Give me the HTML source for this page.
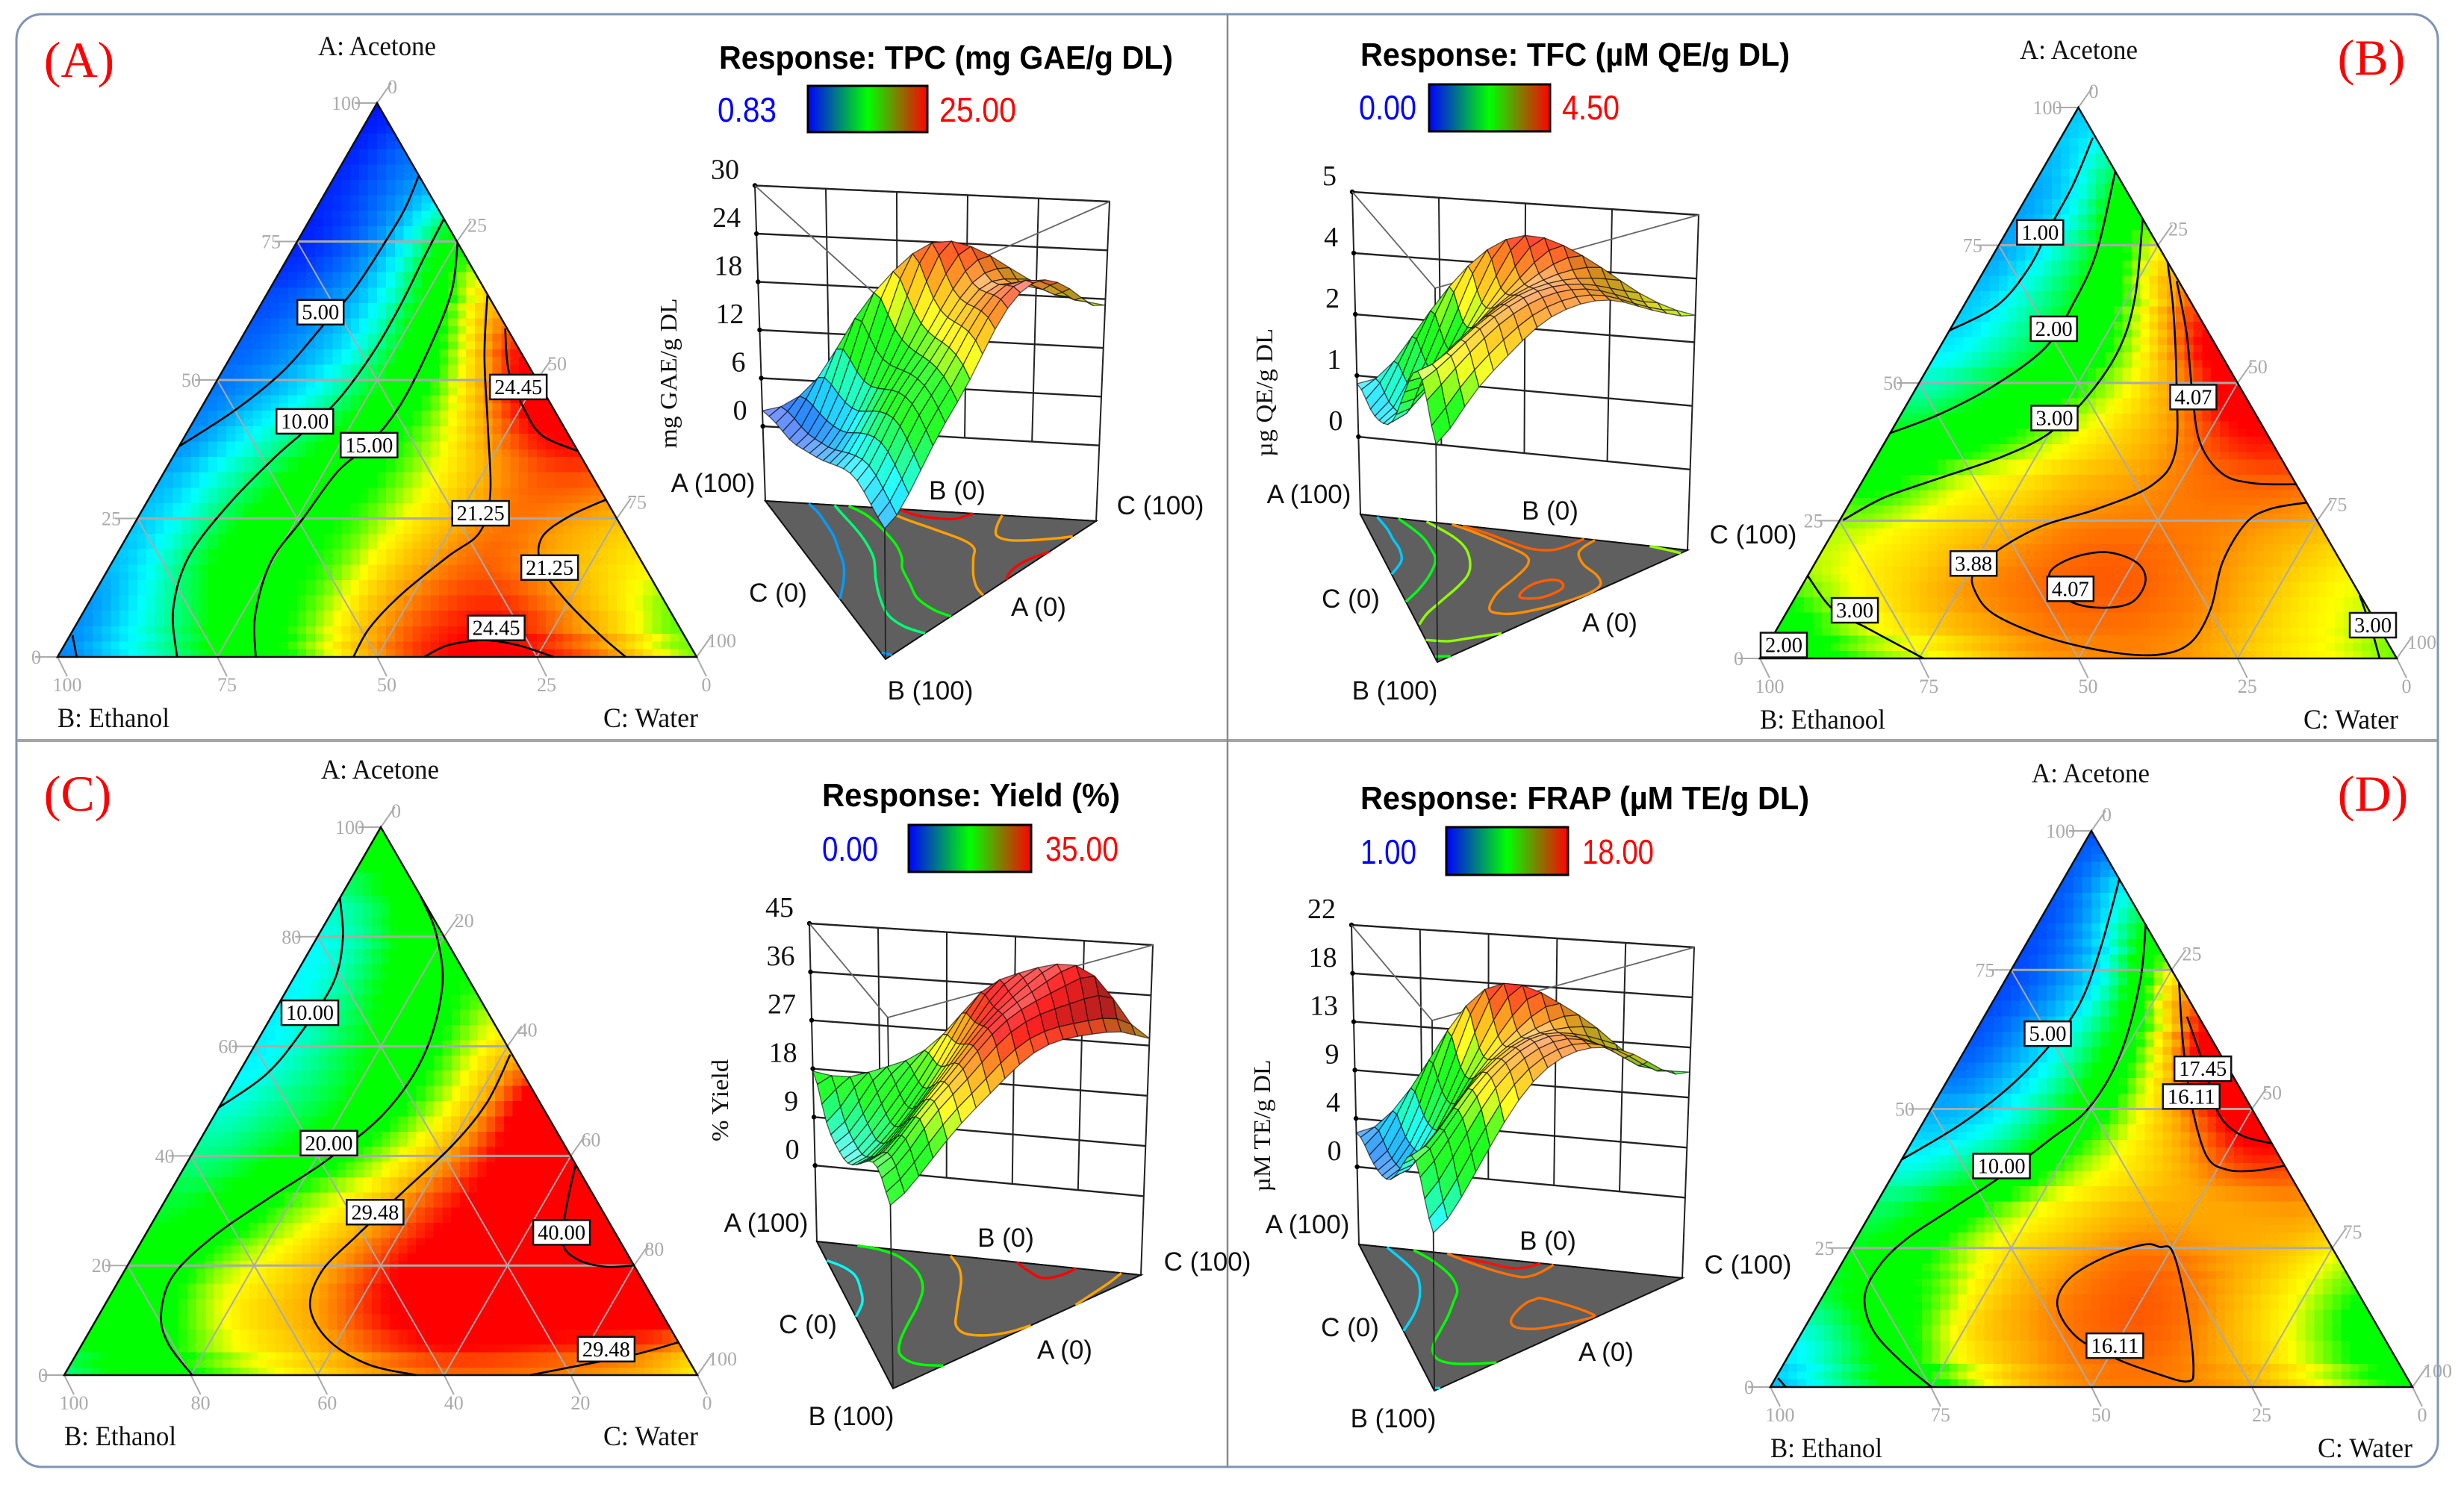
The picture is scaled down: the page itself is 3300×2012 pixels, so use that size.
<!DOCTYPE html>
<html lang="en">
<head>
<meta charset="utf-8">
<title>Ternary response surface plots</title>
<style>
html,body{margin:0;padding:0;background:#fff;}
svg{display:block;}
.corner{font-family:"Liberation Serif",serif;font-size:37px;fill:#111;}
.letter{font-family:"Liberation Serif",serif;font-size:68px;fill:#f00;text-anchor:middle;}
.title{font-family:"Liberation Sans",sans-serif;font-size:44px;font-weight:bold;fill:#000;}
.minv{font-family:"Liberation Sans",sans-serif;font-size:46px;fill:#00f;}
.maxv{font-family:"Liberation Sans",sans-serif;font-size:46px;fill:#f00;}
.ztitle{font-family:"Liberation Serif",serif;font-size:32px;fill:#111;text-anchor:middle;}
.vertex{font-family:"Liberation Sans",sans-serif;font-size:35px;fill:#111;text-anchor:middle;}
</style>
</head>
<body>
<svg id="figure" xmlns="http://www.w3.org/2000/svg" width="3300" height="2012" viewBox="0 0 3300 2012">
<defs>
<linearGradient id="barGrad" x1="0" x2="1" y1="0" y2="0">
<stop offset="0" stop-color="#0000ff"/><stop offset="0.5" stop-color="#00ff00"/><stop offset="1" stop-color="#ff0000"/>
</linearGradient>
</defs>
<rect x="0" y="0" width="3300" height="2012" fill="#fff"/>
<rect x="22" y="19" width="3243" height="1946" rx="34" ry="34" fill="none" stroke="#7f93b3" stroke-width="3"/>
<line x1="23" y1="992" x2="3264" y2="992" stroke="#a4a4a4" stroke-width="4"/>
<line x1="1644" y1="20" x2="1644" y2="1964" stroke="#8a8a8a" stroke-width="2.5"/>

<g id="panelA"></g>
<g id="panelB"></g>
<g id="panelC"></g>
<g id="panelD"></g>

<g>
<text class="letter" x="106" y="103">(A)</text>
<text class="corner" x="505" y="74" text-anchor="middle" textLength="158" lengthAdjust="spacingAndGlyphs">A: Acetone</text>
<text class="corner" x="77" y="974" textLength="150" lengthAdjust="spacingAndGlyphs">B: Ethanol</text>
<text class="corner" x="808" y="974" textLength="127" lengthAdjust="spacingAndGlyphs">C: Water</text>
<text class="title" x="963" y="92" textLength="608" lengthAdjust="spacingAndGlyphs">Response: TPC (mg GAE/g DL)</text>
<text class="minv" x="961" y="163" textLength="79" lengthAdjust="spacingAndGlyphs">0.83</text>
<rect x="1082" y="115" width="160" height="62" fill="url(#barGrad)" stroke="#000" stroke-width="3"/>
<text class="maxv" x="1258" y="163" textLength="103" lengthAdjust="spacingAndGlyphs">25.00</text>
<text class="ztitle" transform="translate(906,500) rotate(-90)" textLength="201" lengthAdjust="spacingAndGlyphs">mg GAE/g DL</text>
<text class="vertex" x="955" y="659">A (100)</text>
<text class="vertex" x="1282" y="669">B (0)</text>
<text class="vertex" x="1554" y="689">C (100)</text>
<text class="vertex" x="1042" y="806">C (0)</text>
<text class="vertex" x="1391" y="825">A (0)</text>
<text class="vertex" x="1246" y="937">B (100)</text>
</g>

<g>
<text class="letter" x="3176" y="100">(B)</text>
<text class="corner" x="2784" y="79" text-anchor="middle" textLength="158" lengthAdjust="spacingAndGlyphs">A: Acetone</text>
<text class="corner" x="2357" y="976" textLength="168" lengthAdjust="spacingAndGlyphs">B: Ethanool</text>
<text class="corner" x="3085" y="976" textLength="127" lengthAdjust="spacingAndGlyphs">C: Water</text>
<text class="title" x="1822" y="88" textLength="575" lengthAdjust="spacingAndGlyphs">Response: TFC (µM QE/g DL)</text>
<text class="minv" x="1820" y="160" textLength="77" lengthAdjust="spacingAndGlyphs">0.00</text>
<rect x="1914" y="113" width="162" height="63" fill="url(#barGrad)" stroke="#000" stroke-width="3"/>
<text class="maxv" x="2092" y="160" textLength="77" lengthAdjust="spacingAndGlyphs">4.50</text>
<text class="ztitle" transform="translate(1704,526) rotate(-90)" textLength="172" lengthAdjust="spacingAndGlyphs">µg QE/g DL</text>
<text class="vertex" x="1753" y="674">A (100)</text>
<text class="vertex" x="2076" y="696">B (0)</text>
<text class="vertex" x="2348" y="728">C (100)</text>
<text class="vertex" x="1809" y="814">C (0)</text>
<text class="vertex" x="2156" y="846">A (0)</text>
<text class="vertex" x="1868" y="937">B (100)</text>
</g>

<g>
<text class="letter" x="104" y="1086">(C)</text>
<text class="corner" x="509" y="1043" text-anchor="middle" textLength="158" lengthAdjust="spacingAndGlyphs">A: Acetone</text>
<text class="corner" x="86" y="1936" textLength="150" lengthAdjust="spacingAndGlyphs">B: Ethanol</text>
<text class="corner" x="808" y="1936" textLength="127" lengthAdjust="spacingAndGlyphs">C: Water</text>
<text class="title" x="1101" y="1080" textLength="399" lengthAdjust="spacingAndGlyphs">Response: Yield (%)</text>
<text class="minv" x="1101" y="1153" textLength="75" lengthAdjust="spacingAndGlyphs">0.00</text>
<rect x="1217" y="1105" width="164" height="63" fill="url(#barGrad)" stroke="#000" stroke-width="3"/>
<text class="maxv" x="1400" y="1153" textLength="98" lengthAdjust="spacingAndGlyphs">35.00</text>
<text class="ztitle" transform="translate(975,1474) rotate(-90)" textLength="110" lengthAdjust="spacingAndGlyphs">% Yield</text>
<text class="vertex" x="1026" y="1650">A (100)</text>
<text class="vertex" x="1347" y="1670">B (0)</text>
<text class="vertex" x="1617" y="1702">C (100)</text>
<text class="vertex" x="1082" y="1786">C (0)</text>
<text class="vertex" x="1426" y="1820">A (0)</text>
<text class="vertex" x="1140" y="1909">B (100)</text>
</g>

<g>
<text class="letter" x="3178" y="1086">(D)</text>
<text class="corner" x="2800" y="1048" text-anchor="middle" textLength="158" lengthAdjust="spacingAndGlyphs">A: Acetone</text>
<text class="corner" x="2371" y="1952" textLength="150" lengthAdjust="spacingAndGlyphs">B: Ethanol</text>
<text class="corner" x="3104" y="1952" textLength="127" lengthAdjust="spacingAndGlyphs">C: Water</text>
<text class="title" x="1822" y="1084" textLength="601" lengthAdjust="spacingAndGlyphs">Response: FRAP (µM TE/g DL)</text>
<text class="minv" x="1822" y="1157" textLength="75" lengthAdjust="spacingAndGlyphs">1.00</text>
<rect x="1937" y="1108" width="163" height="64" fill="url(#barGrad)" stroke="#000" stroke-width="3"/>
<text class="maxv" x="2119" y="1157" textLength="96" lengthAdjust="spacingAndGlyphs">18.00</text>
<text class="ztitle" transform="translate(1701,1508) rotate(-90)" textLength="177" lengthAdjust="spacingAndGlyphs">µM TE/g DL</text>
<text class="vertex" x="1751" y="1652">A (100)</text>
<text class="vertex" x="2073" y="1674">B (0)</text>
<text class="vertex" x="2341" y="1706">C (100)</text>
<text class="vertex" x="1808" y="1790">C (0)</text>
<text class="vertex" x="2151" y="1823">A (0)</text>
<text class="vertex" x="1866" y="1912">B (100)</text>
</g>
</svg>

<script>
/* ---------- DATA: response values on a 13-row ternary lattice (row 0 = A 100 %, row 12 = A 0 %; column = C in 8.33 % steps) ---------- */
const tpcGrid = [
[0.5],
[1.0,4.0],
[1.5,3.5,6.5],
[1.2,3.0,7.0,15.0],
[2.0,4.0,6.5,13.0,20.5],
[3.0,4.5,6.5,11.5,16.5,24.5],
[3.5,4.8,7.5,11.5,15.0,21.0,27],
[3.5,7.0,9.5,12.5,15.3,18.5,23.0,25.5],
[4.5,8.0,10.5,14.0,15.0,18.0,20.5,23.0,23.5],
[5.5,8.5,12.0,14.8,15.6,18.2,20.5,22.5,21.4,20.3],
[5.2,8.5,12.5,14.8,15.4,19.0,21.5,23.0,21.25,20.0,18.5],
[3.8,7.5,10.5,14.0,15.5,19.0,22.0,23.5,24.0,21.5,19.0,15.5],
[4.0,7.0,9.3,12.5,14.5,18.0,22.0,24.5,25.4,24.9,23.2,20.0,16.4]
];
const tfcGrid = [
[0.85],
[0.8,1.6],
[0.7,1.2,2.7],
[0.65,1.3,2.1,3.45],
[0.8,1.4,2.0,2.95,4.2],
[1.0,1.45,1.9,2.55,3.45,4.75],
[1.3,1.75,2.15,2.7,3.25,3.92,4.8],
[1.95,2.25,2.55,3.0,3.4,3.7,4.15,4.5],
[2.4,2.7,3.2,3.35,3.6,3.75,3.98,4.08,4.15],
[2.95,3.2,3.45,3.55,3.85,3.97,3.95,3.95,3.85,3.75],
[3.05,3.35,3.5,3.85,3.98,4.07,4.1,3.98,3.8,3.55,3.3],
[2.55,3.05,3.45,3.75,3.9,4.03,4.06,4.0,3.88,3.55,3.3,3.05],
[1.75,2.4,2.8,3.0,3.4,3.75,3.82,3.88,3.8,3.6,3.35,3.2,2.8]
];
const yieldGrid = [
[20],
[14,19],
[10,13.5,21],
[9,12,18,21],
[8.7,12,16.5,19.5,24],
[8.5,11.5,15,18.5,23.5,29.5],
[9.5,12.5,14.5,18.5,23,29.3,38],
[12,14,17,20.8,25,30,36,38.5],
[14,15.5,20.4,23.5,27,32,35,38,41],
[15,19,22.5,26,29.4,33,36,37.5,39.5,42],
[17,20,25,27,29.8,34,36.5,38,39,40,42],
[16.5,18.5,23,27,28.7,32,35,36,36,35,35,34],
[12,17,19.5,21.5,24.5,26.5,28.5,30,29.9,29.5,28.5,27,23]
];
const frapGrid = [
[1.8],
[2,5.5],
[2,4.2,9.5],
[2,3.5,6.5,15],
[2,3.9,6.5,11,18.5],
[2.4,4.2,6.5,10.3,14.5,20.3],
[4,4.8,7,10,13.5,16.3,19],
[5.2,6.5,8,11.5,13.3,14.5,16.7,17.5],
[7,8.5,11,13,14,14.8,15,15.3,15.8],
[8,10.3,12.5,14,14.8,16,16,15.3,14.8,13.5],
[7.5,10.5,11.2,13.9,15.5,16.2,16.5,16,14.5,13,11],
[5.5,7.5,10.8,14,15,16,16.4,16.2,15,13.5,11.5,9.5],
[4,6.5,8.5,10,13,15,15.7,15.9,15.8,15.4,14,12.5,11.3]
];

/* contour levels and their traces in composition units [A %, C %] */
const tpcContourLevels = [5,5,10,15,21.25,21.25,24.45,24.45];
const tpcContourTraces = [
[[38,0],[44.7,5.6],[51.6,9.5],[59.3,11.5],[66.2,13.2],[74.8,13.8],[80.8,13.9],[86.8,13.1]],
[[3.9,0.4],[0,3]],
[[0,18.7],[8.6,13.8],[18,11.5],[27.5,13],[36.1,16],[40.8,18.3],[46.4,20.7],[55,21.9],[63.6,21.9],[72.2,21.3],[79.1,20.9]],
[[0,31],[7.7,27.1],[17.2,24.8],[24.9,25.9],[33.5,27.1],[38.3,29.6],[45.6,30.9],[56.8,30.2],[66.2,28.6],[74.8,25.2]],
[[65.3,34.6],[54.2,39.7],[41.3,46.7],[29.2,53.1],[22.4,54.8],[18.1,52],[11.2,48.1],[5.2,46.2],[0,46.3]],
[[28.4,71.6],[25.4,67.4],[21.5,65],[16.3,67.6],[10.3,74.3],[3.9,83],[0,88.9]],
[[59.3,40.4],[51.6,44.8],[44.7,50.7],[40,55.8],[37.2,62.7]],
[[0,57.4],[2.1,60],[3,65.1],[2.1,71],[0,77.6]]
];
const tpcLabels = [["5.00",62.3,10],["10.00",42.6,17.4],["15.00",38.3,29.6],["21.25",26,53.2],["21.25",16.2,68.9],["24.45",48.8,47.7],["24.45",5.3,66]];

const tfcContourLevels = [1,2,2,3,3,3,3.88,4.07,4.07];
const tfcContourTraces = [
[[59.5,0],[64.2,5.3],[71.1,6.8],[78,6.4],[85.8,6.2],[94.5,5]],
[[40.9,0],[44.3,6],[49.5,12],[56.4,16.6],[64.2,17],[73.7,16],[88.4,11.6]],
[[3.7,0.3],[0,5.3]],
[[25.1,0.5],[29.2,4.9],[32.7,11.8],[36.6,19.7],[40.9,25],[47.8,27.7],[56.4,28.3],[65.9,26],[79.8,20.2]],
[[15,0],[8.9,7],[5.4,14.3],[0,25.7]],
[[11.5,88.4],[5.4,93.3],[0,97.3]],
[[72,28],[63.4,33.2],[50.4,40.2],[37.4,46.5],[31.4,45.8],[27.1,39.3],[24,32.2],[19.7,27.6],[15.8,25.8],[12.4,27.5],[8,32.8],[3.7,43.6],[1.1,54.8],[0.7,62.4],[2.9,66.2],[8.9,66.3],[17.5,63.9],[24.5,64],[27.1,66.5],[28.3,71.7]],
[[68.5,31.2],[59,37.5],[48.7,43.5],[39.2,49.5],[33.5,55.9],[31.8,61.6],[31.6,68.4]],
[[15,37.9],[18,39.5],[19.3,44.5],[17.5,50.3],[14.1,53.5],[10.2,53.3],[9.2,48.9],[10.5,43.3],[15,37.9]]
];
const tfcLabels = [["1.00",77.4,5.3],["2.00",59.9,16.2],["3.00",43.7,24.4],["4.07",47.5,44.3],["3.88",17.3,24.9],["4.07",12.7,42.4],["3.00",8.8,10.5],["2.00",2.5,2.5],["3.00",6.1,93.2]];

const yieldContourLevels = [10,20,29.48,29.48,40];
const yieldContourTraces = [
[[48.8,0],[55,4.5],[62.9,6.2],[71.7,6.7],[79.6,4.2],[87.1,0]],
[[0,20.2],[5.7,13.6],[11,9.8],[18,8.1],[25.1,10.8],[32.1,16],[39.1,21.8],[47.9,26.7],[58.5,27.6],[70.8,24.3],[80.5,18.5],[87.5,12.5]],
[[0,55.6],[1.9,47.2],[6.2,38.8],[12.3,32.7],[18.9,31.2],[25.5,33.5],[33,36.6],[41.8,40.3],[49.7,41.9],[58.5,41.2]],
[[0,73.6],[1.8,80.7],[3.8,88.4],[6,94]],
[[38.3,61.6],[31.2,63.8],[24.2,66.6],[21.1,70.5],[19.8,75.5],[20,80]]
];
const yieldLabels = [["10.00",66.2,5.7],["20.00",42.4,20.6],["29.48",29.8,34.2],["40.00",26.1,65.5],["29.48",4.8,83.2]];

const frapContourLevels = [5,5,10,16.11,17.45,16.11];
const frapContourTraces = [
[[40.9,0],[47.1,5.9],[54.1,10.3],[62.3,13],[69.2,13.7],[78.8,12],[91.3,8.7]],
[[1.6,0.4],[0,2.4]],
[[0,25.1],[4.7,17.9],[10.3,10.8],[16.4,6.5],[22,6.1],[26.8,8],[32,12.2],[38,17.1],[44.5,21.3],[50.2,24.5],[59.7,24.6],[72.7,21.2],[83.1,16.9]],
[[72.7,27.3],[61.4,33.6],[50.2,40.6],[41.5,47.2],[39.1,51.5],[38.9,55.9],[39.8,60.2]],
[[66.6,31.6],[57.3,39],[49.3,45.1],[45.4,50.4],[43.8,56.1]],
[[25.6,45.3],[23.3,40.3],[19.4,36.8],[14.6,37.4],[9,43.2],[5.1,51.3],[2.5,58.7],[1,64.4],[3.4,64.2],[13.8,58],[24.2,50.6],[25.2,48],[25.6,45.3]]
];
const frapLabels = [["5.00",63.6,11.4],["10.00",39.8,16.1],["17.45",57.3,38.7],["16.11",52.3,39.4],["16.11",7.5,49.9]];

/* axis tick labels */
const tpcZTicks = ["0","6","12","18","24","30"];
const tfcZTicks = ["0","1","2","4","5"];
const yieldZTicks = ["0","9","18","27","36","45"];
const frapZTicks = ["0","4","9","13","18","22"];
const quarterTicks = ["0","25","50","75","100"];
const fifthTicks = ["0","20","40","60","80","100"];

/* ---------- LAYOUT ---------- */
const layouts = {
 a:{id:"panelA",key:"tpc",grid:tpcGrid,levels:tpcContourLevels,traces:tpcContourTraces,labels:tpcLabels,zTicks:tpcZTicks,ticks:quarterTicks,
    vmin:0.83,vmax:25,zMax:30,left:77,width:856,base:880,height:742,wallDiv:5,
    TA:[1011,248.5],TC:[1486,270],TB:[1183,404],FA:[1025,671],FC:[1468,698],FB:[1186,883],zero:0.2367},
 b:{id:"panelB",key:"tfc",grid:tfcGrid,levels:tfcContourLevels,traces:tfcContourTraces,labels:tfcLabels,zTicks:tfcZTicks,ticks:quarterTicks,
    vmin:0,vmax:4.5,zMax:5,left:2357,width:853,base:882,height:738,wallDiv:4,
    TA:[1811,257],TC:[2275,288],TB:[1922,386],FA:[1822,689],FC:[2260,737],FB:[1925,887],zero:0.2407},
 c:{id:"panelC",key:"yield",grid:yieldGrid,levels:yieldContourLevels,traces:yieldContourTraces,labels:yieldLabels,zTicks:yieldZTicks,ticks:fifthTicks,
    vmin:0,vmax:35,zMax:45,left:86,width:848,base:1842,height:734,wallDiv:5,
    TA:[1084,1237],TC:[1544,1266],TB:[1189,1363],FA:[1094,1663],FC:[1528,1708],FB:[1196,1860],zero:0.239},
 d:{id:"panelD",key:"frap",grid:frapGrid,levels:frapContourLevels,traces:frapContourTraces,labels:frapLabels,zTicks:frapZTicks,ticks:quarterTicks,
    vmin:1,vmax:18,zMax:22,left:2371,width:860,base:1858,height:745,wallDiv:5,
    TA:[1810,1239],TC:[2269,1269],TB:[1918,1367],FA:[1820,1667],FC:[2253,1712],FB:[1921,1863],zero:0.243}
};

const SVGNS = "http://www.w3.org/2000/svg";
const FINE = 72, MESH = 18, MESH_STEP = 4, COARSE = 12;

function mk(tag, attrs, parent){
  const el = document.createElementNS(SVGNS, tag);
  for (const k in attrs) el.setAttribute(k, attrs[k]);
  if (parent) parent.appendChild(el);
  return el;
}

/* axis functions */
function terX(L,a,c){ return L.left + (c + a/2)/100*L.width; }
function terY(L,a){ return L.base - a/100*L.height; }
function normT(L,v){ return Math.max(0,Math.min(1,(v-L.vmin)/(L.vmax-L.vmin))); }
function heightOf(L,v){ return L.zero + (1-L.zero)*v/L.zMax; }
function proj(L,a,c,h){
  const b = 100-a-c;
  const fx=(a*L.FA[0]+b*L.FB[0]+c*L.FC[0])/100, fy=(a*L.FA[1]+b*L.FB[1]+c*L.FC[1])/100;
  const tx=(a*L.TA[0]+b*L.TB[0]+c*L.TC[0])/100, ty=(a*L.TA[1]+b*L.TB[1]+c*L.TC[1])/100;
  return [fx+(tx-fx)*h, fy+(ty-fy)*h];
}
function colormap(t){
  const stops=[[0,0,0,255],[0.28,0,255,255],[0.46,0,255,0],[0.60,0,255,0],[0.72,255,255,0],[0.84,255,165,0],[0.90,255,100,0],[0.98,255,0,0],[1,255,0,0]];
  const tt=isFinite(t)?Math.max(0,Math.min(1,t)):0;
  let i=0;
  while(i<stops.length-2&&tt>stops[i+1][0]) i++;
  const f=(tt-stops[i][0])/(stops[i+1][0]-stops[i][0]);
  return [1,2,3].map(k=>stops[i][k]+(stops[i+1][k]-stops[i][k])*f);
}
function rgb(c){ return "rgb("+c.map(v=>Math.round(v)).join(",")+")"; }

/* Fine lattice derived from a panel's grid array: Catmull-Rom on the coarse lattice */
function catmull(p0,p1,p2,p3,t){
  return 0.5*(2*p1+(p2-p0)*t+(2*p0-5*p1+4*p2-p3)*t*t+(3*p1-p0-3*p2+p3)*t*t*t);
}
function buildField(grid){
  const memo=new Map();
  function E(i,j){
    const key=i+"_"+j;
    if(memo.has(key)) return memo.get(key);
    let r;
    if(i<0) r=2*E(0,j)-E(1,j);
    else if(j<0) r=2*E(i,0)-E(i,1);
    else if(i+j>COARSE) r=(i>=j)?2*E(i-1,j)-E(i-2,j):2*E(i,j-1)-E(i,j-2);
    else r=grid[COARSE-i][j];
    memo.set(key,r);
    return r;
  }
  const ratio=FINE/COARSE, F=[];
  for(let ia=0;ia<=FINE;ia++){
    F[ia]=[];
    for(let ic=0;ic<=FINE-ia;ic++){
      const i0=Math.floor(ia/ratio), j0=Math.floor(ic/ratio);
      const fu=(ia%ratio)/ratio, fv=(ic%ratio)/ratio;
      const col=[];
      for(let di=-1;di<=2;di++){
        col.push(catmull(E(i0+di,j0-1),E(i0+di,j0),E(i0+di,j0+1),E(i0+di,j0+2),fv));
      }
      F[ia][ic]=Math.max(0,catmull(col[0],col[1],col[2],col[3],fu));
    }
  }
  return F;
}
function smoothField(F0,passes){
  const nb=[[1,0],[-1,0],[0,1],[0,-1],[1,-1],[-1,1]];
  let F=F0;
  for(let pass=0;pass<passes;pass++){
    const N=[];
    for(let ia=0;ia<=FINE;ia++){
      N[ia]=[];
      for(let ic=0;ic<=FINE-ia;ic++){
        let s=0;
        for(const d of nb){
          const x=ia+d[0], y=ic+d[1];
          s+=(x>=0&&y>=0&&x+y<=FINE)?F[x][y]:F[ia][ic];
        }
        N[ia][ic]=0.4*F[ia][ic]+0.6*s/6;
      }
    }
    F=N;
  }
  return F;
}

function smoothPath(pts,closed){
  const n=pts.length; let d="M"+pts[0][0].toFixed(1)+" "+pts[0][1].toFixed(1);
  const count=closed?n-1:n;
  const at=i=>closed?pts[((i%count)+count)%count]:pts[Math.max(0,Math.min(n-1,i))];
  const segs=closed?count:n-1;
  for(let i=0;i<segs;i++){
    const p0=at(i-1),p1=at(i),p2=at(i+1),p3=at(i+2);
    const c1=[p1[0]+(p2[0]-p0[0])/6,p1[1]+(p2[1]-p0[1])/6];
    const c2=[p2[0]-(p3[0]-p1[0])/6,p2[1]-(p3[1]-p1[1])/6];
    d+="C"+c1[0].toFixed(1)+" "+c1[1].toFixed(1)+" "+c2[0].toFixed(1)+" "+c2[1].toFixed(1)+" "+p2[0].toFixed(1)+" "+p2[1].toFixed(1);
  }
  return closed?d+"Z":d;
}
function isClosed(t){ const a=t[0],b=t[t.length-1]; return a[0]===b[0]&&a[1]===b[1]; }

function drawTernary(L,F,root){
  const g=mk("g",{},root);
  
  
  const clipId="clip-"+L.key;
  const apex=[terX(L,100,0),terY(L,100)], bl=[terX(L,0,0),terY(L,0)], br=[terX(L,0,100),terY(L,0)];
  const tri=apex.join(",")+" "+bl.join(",")+" "+br.join(",");
  const cp=mk("clipPath",{id:clipId},g);
  mk("polygon",{points:tri},cp);

  /* heatmap cells on a square pixel grid */
  const hm=mk("g",{"clip-path":"url(#"+clipId+")","shape-rendering":"crispEdges"},g);
  
  
  const cw=L.width/FINE, ch=L.height/FINE;
  for(let r=0;r<FINE;r++){
    const aMid=100*(1-(r+0.5)/FINE);
    const aLow=100*(1-(r+1)/FINE);
    const xL=terX(L,aLow,0), xR=terX(L,aLow,100-aLow);
    const k0=Math.floor((xL-L.left)/cw), k1=Math.ceil((xR-L.left)/cw);
    for(let k=k0;k<k1;k++){
      const x=L.left+k*cw;
      const fx=(x+cw/2-L.left)/L.width*100;
      const ia=Math.max(0,Math.min(FINE,Math.round(aMid/100*FINE)));
      let ic=Math.round((fx-aMid/2)/100*FINE);
      ic=Math.max(0,Math.min(FINE-ia,ic));
      const cell=mk("rect",{x:x.toFixed(1),y:(apex[1]+r*ch).toFixed(1),width:(cw+0.8).toFixed(1),height:(ch+0.8).toFixed(1),fill:rgb(colormap(normT(L,F[ia][ic])))},hm);
      
      
    }
  }

  /* grid + ticks */
  const div=L.ticks.length-1, step=100/div;
  const grp=mk("g",{stroke:"#aaaaaa","stroke-width":2,fill:"none"},g);
  
  
  for(let k=1;k<div;k++){
    const v=k*step;
    const l1=mk("line",{x1:terX(L,v,0),y1:terY(L,v),x2:terX(L,v,100-v),y2:terY(L,v),"stroke-width":3},grp);
    
    
    const l2=mk("line",{x1:terX(L,0,v),y1:terY(L,0),x2:terX(L,100-v,v),y2:terY(L,100-v)},grp);
    
    
    const l3=mk("line",{x1:terX(L,0,v),y1:terY(L,0),x2:terX(L,v,0),y2:terY(L,v)},grp);
    
    
  }
  for(let k=0;k<=div;k++){
    const v=k*step, lab=L.ticks[k];
    const yA=terY(L,v), xA=terX(L,v,0);
    const t1=mk("line",{x1:xA,y1:yA,x2:xA-30,y2:yA,stroke:"#aaa","stroke-width":2},g);
    
    
    const a1=mk("text",{x:xA-22,y:yA+9,"text-anchor":"end","font-size":26,fill:"#aaa","font-family":"Liberation Serif, serif"},g);
    a1.textContent=lab;
    
    
    const xC=terX(L,100-v,v), yC=terY(L,100-v);
    const t2=mk("line",{x1:xC,y1:yC,x2:xC+19,y2:yC-27,stroke:"#aaa","stroke-width":2},g);
    
    
    const a2=mk("text",{x:xC+14,y:yC-13,"font-size":26,fill:"#aaa","font-family":"Liberation Serif, serif"},g);
    a2.textContent=lab;
    
    
    const xB=terX(L,0,100-v), yB=terY(L,0);
    const t3=mk("line",{x1:xB,y1:yB,x2:xB+13,y2:yB+26,stroke:"#aaa","stroke-width":2},g);
    
    
    const a3=mk("text",{x:xB+13,y:yB+46,"text-anchor":"middle","font-size":26,fill:"#aaa","font-family":"Liberation Serif, serif"},g);
    a3.textContent=lab;
    
    
  }

  /* triangle outline */
  const outline=mk("polygon",{points:tri,fill:"none",stroke:"#111","stroke-width":2.5},g);
  
  

  /* contours */
  L.traces.forEach(function(tr){
    const pts=tr.map(p=>[terX(L,p[0],p[1]),terY(L,p[0])]);
    const path=mk("path",{d:smoothPath(pts,isClosed(tr)),fill:"none",stroke:"#000","stroke-width":2.6},g);
    
    
  });

  /* contour labels */
  L.labels.forEach(function(lb){
    const x=terX(L,lb[1],lb[2]), y=terY(L,lb[1]);
    const w=lb[0].length>4?76:62;
    const box=mk("rect",{x:x-w/2,y:y-16,width:w,height:33,fill:"#fff",stroke:"#111","stroke-width":2.5},g);
    
    
    const tx=mk("text",{x:x,y:y+10,"text-anchor":"middle","font-size":29,fill:"#000","font-family":"Liberation Serif, serif",textLength:w-12,lengthAdjust:"spacingAndGlyphs"},g);
    tx.textContent=lb[0];
    
    
  });
}

function lerp2(p,q,t){ return [p[0]+(q[0]-p[0])*t,p[1]+(q[1]-p[1])*t]; }

function draw3D(L,F,root){
  const g=mk("g",{},root);
  
  

  const wallBg=mk("polygon",{points:[L.TA,L.TC,L.FC,L.FA].map(p=>p.join(",")).join(" "),fill:"#fff",stroke:"#222","stroke-width":2},g);
  
  

  /* z grid lines + tick dots + labels */
  const nz=L.zTicks.length-1;
  for(let k=0;k<=nz;k++){
    const h=L.zero+(1-L.zero)*k/nz;
    const p=lerp2(L.FA,L.TA,h), q=lerp2(L.FC,L.TC,h);
    const ln=mk("line",{x1:p[0],y1:p[1],x2:q[0],y2:q[1],stroke:"#222","stroke-width":2.4},g);
    
    
    const dot=mk("circle",{cx:p[0],cy:p[1],r:3.2,fill:"#000"},g);
    
    
    const lab=mk("text",{x:p[0]-21,y:p[1]-9,"text-anchor":"end","font-size":38,fill:"#111","font-family":"Liberation Serif, serif"},g);
    lab.textContent=L.zTicks[k];
    
    
  }
  for(let k=1;k<L.wallDiv;k++){
    const top=lerp2(L.TA,L.TC,k/L.wallDiv), fl=lerp2(L.FA,L.FC,k/L.wallDiv);
    const low=lerp2(fl,top,L.zero);
    const vl=mk("line",{x1:top[0],y1:top[1],x2:low[0],y2:low[1],stroke:"#222","stroke-width":2},g);
    
    
  }

  /* floor */
  const floor=mk("polygon",{points:[L.FA,L.FC,L.FB].map(p=>p.join(",")).join(" "),fill:"#5f5f5f",stroke:"#111","stroke-width":2},g);
  
  
  L.traces.forEach(function(tr,i){
    const pts=tr.map(p=>proj(L,p[0],p[1],0));
    const path=mk("path",{d:smoothPath(pts,isClosed(tr)),fill:"none",stroke:rgb(colormap(normT(L,L.levels[i]))),"stroke-width":3.4},g);
    
    
  });

  /* box diagonals and the front vertical */
  [[L.TA,L.TB],[L.TC,L.TB]].forEach(function(s){
    const dl=mk("line",{x1:s[0][0],y1:s[0][1],x2:s[1][0],y2:s[1][1],stroke:"#666","stroke-width":1.8},g);
    
    
  });
  const fv=mk("line",{x1:L.TB[0],y1:L.TB[1],x2:L.FB[0],y2:L.FB[1],stroke:"#222","stroke-width":1.8},g);
  
  

  /* surface cells painted back to front */
  const cells=[];
  for(let i=0;i<MESH;i++){
    for(let j=0;j<MESH-i;j++){
      const corners=(i+j+2<=MESH)?[[i,j],[i+1,j],[i+1,j+1],[i,j+1]]:[[i,j],[i+1,j],[i,j+1]];
      const mid=corners.reduce((s,c)=>s+c[0]+c[1],0)/corners.length;
      cells.push({corners:corners,order:MESH-mid});
    }
  }
  cells.sort((p,q)=>p.order-q.order);
  const light=[-0.6,-0.45,0.66], glow=[-0.25,0.05,0.97];
  const sg=mk("g",{},g);
  
  
  cells.forEach(function(cell){
    const pts=[], vals=[], w=[];
    cell.corners.forEach(function(cn){
      const ia=cn[0]*MESH_STEP, ic=cn[1]*MESH_STEP, v=F[ia][ic];
      const a=cn[0]/MESH*100, c=cn[1]/MESH*100, b=100-a-c;
      vals.push(v);
      pts.push(proj(L,a,c,heightOf(L,v)));
      w.push([(c+b*0.5)/100,1-b*0.866/100,v/L.zMax]);
    });
    const quad=w.length===4;
    const e1=w[quad?2:1], e2=w[quad?3:2];
    const d1=[e1[0]-w[0][0],e1[1]-w[0][1],e1[2]-w[0][2]];
    const d2=[e2[0]-w[1][0],e2[1]-w[1][1],e2[2]-w[1][2]];
    let n=[d1[1]*d2[2]-d1[2]*d2[1],d1[2]*d2[0]-d1[0]*d2[2],d1[0]*d2[1]-d1[1]*d2[0]];
    const len=Math.hypot(n[0],n[1],n[2])||1; n=n.map(v=>v/len);
    if(n[2]<0) n=n.map(v=>-v);
    const dp=Math.max(0,n[0]*light[0]+n[1]*light[1]+n[2]*light[2]);
    const gl=Math.max(0,n[0]*glow[0]+n[1]*glow[1]+n[2]*glow[2]);
    const gain=Math.min(1,0.66+0.7*dp);
    const white=0.12+0.38*Math.pow(gl,8);
    const avg=vals.reduce((s,v)=>s+v,0)/vals.length;
    const col=colormap(normT(L,avg)).map(v=>v*gain*(1-white)+255*white);
    const poly=mk("polygon",{points:pts.map(p=>p[0].toFixed(1)+","+p[1].toFixed(1)).join(" "),fill:rgb(col),stroke:"rgba(0,0,0,0.62)","stroke-width":1.3,"stroke-linejoin":"round"},sg);
    
    
  });
}

Object.keys(layouts).forEach(function(k){
  const L=layouts[k], root=document.getElementById(L.id);
  const base=buildField(L.grid);
  drawTernary(L,smoothField(base,14),root);
  draw3D(L,smoothField(base,50),root);
});
</script>
</body>
</html>
